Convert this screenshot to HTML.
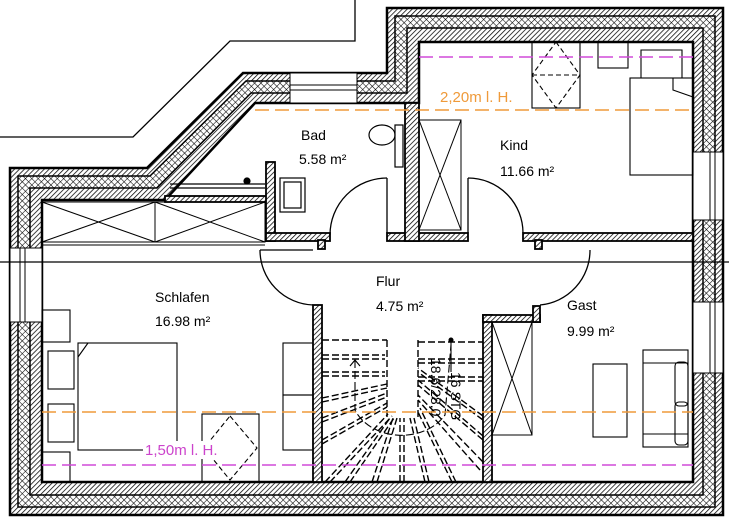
<!DOCTYPE html>
<html><head><meta charset="utf-8"><style>
html,body{margin:0;padding:0;background:#fff;width:729px;height:520px;overflow:hidden}
svg{display:block}
text{font-family:"Liberation Sans",sans-serif}
</style></head><body>
<svg width="729" height="520" viewBox="0 0 729 520" xmlns="http://www.w3.org/2000/svg">
<defs>
<pattern id="h" width="3.5" height="3.5" patternUnits="userSpaceOnUse" patternTransform="rotate(45)"><rect width="4" height="4" fill="#fff"/><line x1="0" y1="0" x2="0" y2="4" stroke="#000" stroke-width="1.5"/></pattern>
<pattern id="x" width="4.5" height="4.5" patternUnits="userSpaceOnUse" patternTransform="rotate(45)"><rect width="5" height="5" fill="#fff"/><line x1="0" y1="0" x2="0" y2="5" stroke="#000" stroke-width="1.1"/><line x1="0" y1="0" x2="5" y2="0" stroke="#000" stroke-width="1.1"/></pattern>
</defs>
<rect width="729" height="520" fill="#fff"/>
<polyline points="0,137 133,137 230,41 355,41 355,0" fill="none" stroke="#000" stroke-width="1.3"/>
<polygon points="10,168 147,168 243,73 387,73 387,8 723,8 723,515 10,515" fill="url(#h)" stroke="#000" stroke-width="2.5"/>
<polygon points="18,176 150,176 246,81 395,81 395,16 715,16 715,507 18,507" fill="url(#x)" stroke="#000" stroke-width="1.5"/>
<polygon points="30,188 157,188 251,93 407,93 407,28 703,28 703,495 30,495" fill="url(#h)" stroke="#000" stroke-width="1.5"/>
<polygon points="42,200 165,200 255,103 419,103 419,42 693,42 693,482 42,482" fill="#fff" stroke="#000" stroke-width="2.5"/>
<g fill="#fff" stroke="#000" stroke-width="1">
<rect x="290" y="73" width="67" height="30"/>
<line x1="290" y1="85" x2="357" y2="85"/><line x1="290" y1="90" x2="357" y2="90"/>
<rect x="10" y="248" width="32" height="74"/>
<line x1="20" y1="248" x2="20" y2="322"/><line x1="25" y1="248" x2="25" y2="322"/>
<rect x="693" y="152" width="30" height="68"/>
<line x1="710" y1="152" x2="710" y2="220"/><line x1="715" y1="152" x2="715" y2="220"/>
<rect x="693" y="302" width="30" height="71"/>
<line x1="710" y1="302" x2="710" y2="373"/><line x1="715" y1="302" x2="715" y2="373"/>
</g>
<g fill="url(#h)" stroke="#000" stroke-width="1.8">
<rect x="165" y="196" width="105" height="6"/>
<rect x="266" y="162" width="9" height="79"/>
<rect x="266" y="233" width="64" height="8"/>
<rect x="318" y="240" width="7" height="9"/>
<rect x="387" y="233" width="81" height="8"/>
<rect x="405" y="103" width="14" height="138"/>
<rect x="523" y="233" width="170" height="8"/>
<rect x="535" y="240" width="7" height="9"/>
<rect x="313" y="305" width="9" height="177"/>
<rect x="483" y="315" width="9" height="167"/>
<rect x="483" y="315" width="57" height="7"/>
<rect x="533" y="306" width="7" height="16"/>
</g>
<line x1="0" y1="262" x2="729" y2="262" stroke="#000" stroke-width="1.3"/>
<line x1="42" y1="245" x2="265" y2="245" stroke="#000" stroke-width="1"/>
<g fill="none" stroke="#000" stroke-width="1.3">
<line x1="387" y1="178" x2="387" y2="233"/><path d="M387,178 A57,57 0 0 0 330,235"/>
<line x1="468" y1="178" x2="468" y2="233"/><path d="M468,178 A55,55 0 0 1 523,233"/>
<line x1="260" y1="250" x2="313" y2="250"/><path d="M260,250 A55,55 0 0 0 313,305"/>
<path d="M590,250 A55,55 0 0 1 540,305"/>
</g>
<g fill="none" stroke="#000" stroke-width="1">
<rect x="42" y="202" width="223" height="40"/><line x1="155" y1="202" x2="155" y2="242"/>
<line x1="42" y1="202" x2="155" y2="242"/><line x1="42" y1="242" x2="155" y2="202"/>
<line x1="155" y1="202" x2="265" y2="242"/><line x1="155" y1="242" x2="265" y2="202"/>
<rect x="419" y="120" width="42" height="110"/>
<line x1="419" y1="120" x2="461" y2="230"/><line x1="461" y1="120" x2="419" y2="230"/>
<rect x="492" y="322" width="40" height="113"/>
<line x1="492" y1="322" x2="532" y2="435"/><line x1="532" y1="322" x2="492" y2="435"/>
</g>
<g fill="none" stroke="#000" stroke-width="1.2">
<ellipse cx="382" cy="135" rx="13" ry="10"/><rect x="395" y="125" width="8" height="42"/>
<rect x="280" y="178" width="25" height="34"/><rect x="284" y="182" width="17" height="26"/>
<line x1="170" y1="184" x2="265" y2="184"/><line x1="170" y1="188" x2="265" y2="188"/>
<circle cx="247" cy="181" r="3" fill="#000"/>
</g>
<g fill="none" stroke="#000" stroke-width="1.1">
<rect x="532" y="42" width="48" height="66"/>
<path d="M556,42 L580,75 L556,108 L532,75 Z" stroke-dasharray="5,3"/>
<line x1="532" y1="75" x2="580" y2="75" stroke-dasharray="5,3"/>
<rect x="598" y="42" width="30" height="26"/>
<rect x="630" y="78" width="63" height="97"/>
<polyline points="641,78 641,50 682,50 682,78"/>
<polyline points="673,78 673,90 693,97"/>
</g>
<g fill="none" stroke="#000" stroke-width="1.1">
<rect x="42" y="310" width="28" height="32"/>
<rect x="78" y="343" width="99" height="107"/>
<polyline points="78,357 88,343"/>
<rect x="48" y="351" width="26" height="38"/>
<rect x="48" y="404" width="26" height="38"/>
<rect x="42" y="452" width="28" height="30"/>
<rect x="202" y="414" width="57" height="68"/>
<path d="M230,416 L257,448 L230,480 L204,448 Z" stroke-dasharray="5,3"/>
<rect x="283" y="343" width="30" height="52"/><rect x="283" y="395" width="30" height="55"/>
</g>
<g fill="none" stroke="#000" stroke-width="1.1">
<rect x="593" y="364" width="34" height="73"/>
<rect x="643" y="350" width="45" height="97"/>
<rect x="675" y="362" width="13" height="44" rx="4"/><rect x="675" y="402" width="13" height="43" rx="4"/>
<line x1="643" y1="363" x2="688" y2="363"/><line x1="643" y1="434" x2="688" y2="434"/>
</g>
<g fill="none" stroke="#000" stroke-width="1.4" stroke-dasharray="7,3">
<line x1="322" y1="340" x2="387" y2="340"/>
<line x1="322" y1="355" x2="385" y2="355"/><line x1="322" y1="359" x2="385" y2="359"/>
<line x1="322" y1="372" x2="385" y2="372"/><line x1="322" y1="376" x2="385" y2="376"/>
<line x1="387" y1="340" x2="387" y2="418"/><line x1="418" y1="340" x2="418" y2="418"/>
<line x1="418" y1="342" x2="483" y2="342"/>
<line x1="418" y1="359" x2="483" y2="359"/><line x1="418" y1="363" x2="483" y2="363"/>
<line x1="418" y1="377" x2="483" y2="377"/><line x1="418" y1="381" x2="483" y2="381"/>
<line x1="322" y1="398" x2="387" y2="384"/><line x1="322" y1="402" x2="387" y2="388"/>
<line x1="322" y1="418" x2="387" y2="393"/><line x1="322" y1="422" x2="387" y2="397"/>
<line x1="322" y1="440" x2="387" y2="403"/><line x1="322" y1="444" x2="387" y2="407"/>
<line x1="325" y1="482" x2="388" y2="414"/><line x1="330" y1="482" x2="392" y2="416"/>
<line x1="345" y1="482" x2="390" y2="418"/><line x1="350" y1="482" x2="394" y2="418"/>
<line x1="372" y1="482" x2="393" y2="418"/><line x1="377" y1="482" x2="397" y2="418"/>
<line x1="400" y1="482" x2="400" y2="418"/><line x1="404" y1="482" x2="404" y2="418"/>
<line x1="425" y1="482" x2="410" y2="418"/><line x1="429" y1="482" x2="414" y2="418"/>
<line x1="452" y1="482" x2="418" y2="412"/><line x1="456" y1="482" x2="420" y2="408"/>
<line x1="480" y1="470" x2="418" y2="400"/><line x1="483" y1="462" x2="418" y2="395"/>
<line x1="483" y1="440" x2="418" y2="385"/><line x1="483" y1="436" x2="418" y2="380"/>
<line x1="483" y1="420" x2="418" y2="372"/><line x1="483" y1="416" x2="418" y2="368"/>
</g>
<g fill="none" stroke="#000" stroke-width="1.1">
<path d="M355,360 L355,410 A50,40 0 0 0 445,415 L451,345" stroke-dasharray="8,3"/>
<polyline points="350,366 355,360 360,366"/>
<line x1="451" y1="340" x2="451" y2="372"/><circle cx="451" cy="340" r="2" fill="#000"/>
</g>
<text transform="translate(431,358) rotate(90)" font-size="14" fill="#000">18,6/28,0</text>
<text transform="translate(451,372) rotate(90)" font-size="14" fill="#000">16 STG</text>
<g fill="none" stroke-width="1.5" stroke-dasharray="14,6">
<line x1="419" y1="57" x2="693" y2="57" stroke="#d04ad8"/>
<line x1="255" y1="110" x2="693" y2="110" stroke="#ef9a3a"/>
<line x1="42" y1="412" x2="693" y2="412" stroke="#ef9a3a"/>
<line x1="42" y1="465" x2="693" y2="465" stroke="#d04ad8"/>
</g>
<rect x="438" y="88" width="64" height="18" fill="#fff"/>
<text x="440" y="102" font-size="15" fill="#ef9a3a">2,20m l. H.</text>
<rect x="143" y="441" width="92" height="18" fill="#fff"/>
<text x="145" y="455" font-size="15" fill="#cc44cc">1,50m l. H.</text>
<g font-size="14" fill="#000">
<text x="301" y="140">Bad</text><text x="299" y="164">5.58 m²</text>
<text x="500" y="150">Kind</text><text x="500" y="176">11.66 m²</text>
<text x="376" y="286">Flur</text><text x="376" y="311">4.75 m²</text>
<text x="155" y="302">Schlafen</text><text x="155" y="326">16.98 m²</text>
<text x="567" y="310">Gast</text><text x="567" y="336">9.99 m²</text>
</g>
</svg>
</body></html>
